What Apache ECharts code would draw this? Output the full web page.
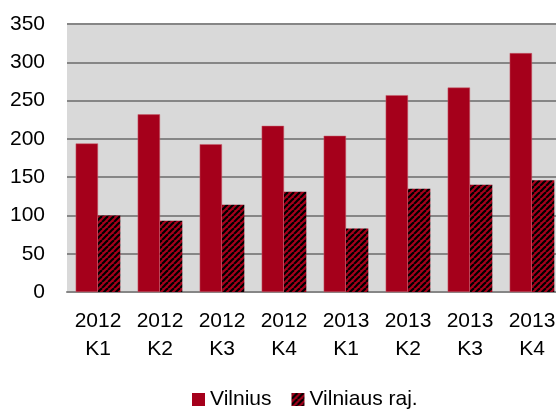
<!DOCTYPE html>
<html>
<head>
<meta charset="utf-8">
<script src="https://cdn.jsdelivr.net/npm/echarts@6/dist/echarts.min.js"></script>
<style>
  html, body { margin: 0; padding: 0; background: #fff; }
  #chart { width: 556px; height: 410px; }
</style>
</head>
<body>
<div id="chart"></div>
<script>
// ketvirčiai
var categories = ['2012\nK1', '2012\nK2', '2012\nK3', '2012\nK4', '2013\nK1', '2013\nK2', '2013\nK3', '2013\nK4'];
var vilnius = [194, 232, 193, 217, 204, 257, 267, 312];
var vilniausRaj = [100, 93, 114, 131, 83, 135, 140, 146];
var yTicks = [0, 50, 100, 150, 200, 250, 300, 350];

var RED = '#a5001b';
var FONT = "'Liberation Sans', Arial, sans-serif";

// dryžuotas raštas antrai serijai
function makeHatch() {
  var c = document.createElement('canvas');
  c.width = 6;
  c.height = 6;
  var ctx = c.getContext('2d');
  ctx.fillStyle = RED;
  ctx.fillRect(0, 0, 6, 6);
  ctx.strokeStyle = '#000';
  ctx.lineWidth = 2.2;
  for (var x = -6; x <= 6; x += 6) {
    ctx.beginPath();
    ctx.moveTo(x, 6);
    ctx.lineTo(x + 6, 0);
    ctx.stroke();
  }
  return c;
}

var chart = echarts.init(document.getElementById('chart'), null, { renderer: 'canvas' });
chart.setOption({
  animation: false,
  textStyle: { fontFamily: FONT },
  grid: {
    show: true,
    left: 67,
    top: 24,
    width: 496,
    height: 268,
    containLabel: false,
    outerBoundsMode: 'none',
    backgroundColor: '#d9d9d9',
    borderWidth: 0
  },
  legend: {
    left: 192,
    top: 389,
    padding: 0,
    itemWidth: 13,
    itemHeight: 13,
    itemGap: 20,
    icon: 'rect',
    itemStyle: { borderWidth: 0 },
    textStyle: { fontSize: 21, color: '#000', fontFamily: FONT },
    data: ['Vilnius', 'Vilniaus raj.']
  },
  xAxis: {
    type: 'category',
    data: categories,
    axisLine: { lineStyle: { color: '#868686', width: 2 } },
    axisTick: { show: false },
    axisLabel: { fontSize: 21, lineHeight: 28, color: '#000', margin: 15, fontFamily: FONT, interval: 0 }
  },
  yAxis: {
    type: 'value',
    min: yTicks[0],
    max: yTicks[yTicks.length - 1],
    interval: 50,
    axisLine: { show: false },
    axisTick: { show: false },
    axisLabel: { fontSize: 21, color: '#000', margin: 22, fontFamily: FONT },
    splitLine: { lineStyle: { color: '#868686', width: 2 } }
  },
  series: [
    {
      name: 'Vilnius',
      type: 'bar',
      data: vilnius,
      barGap: '0%',
      barCategoryGap: '28%',
      itemStyle: { color: RED, borderColor: '#c8606e', borderWidth: 0.5 }
    },
    {
      name: 'Vilniaus raj.',
      type: 'bar',
      data: vilniausRaj,
      itemStyle: { color: { image: makeHatch(), repeat: 'repeat' } }
    }
  ]
});
</script>
</body>
</html>
